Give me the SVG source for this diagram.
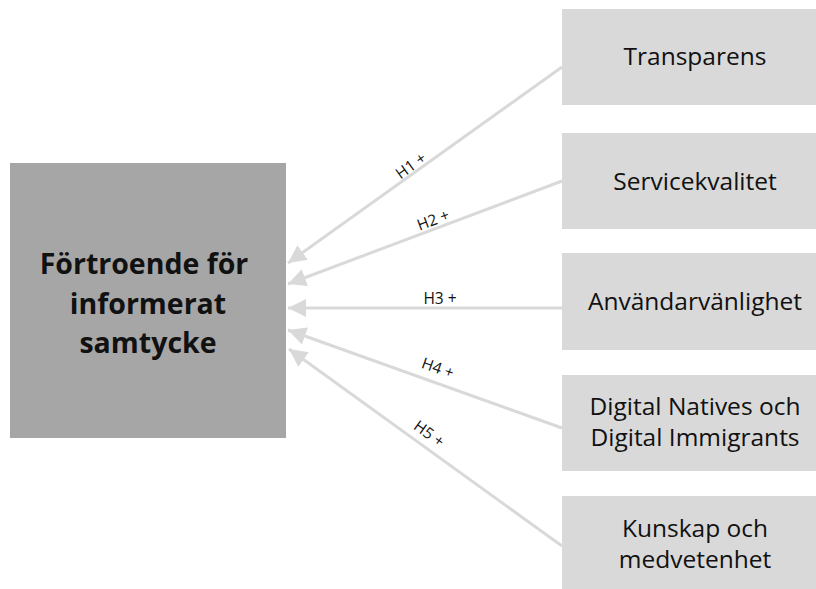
<svg xmlns="http://www.w3.org/2000/svg" width="816" height="589" viewBox="0 0 816 589">
<style>
.main{fill:#a6a6a6}
.box{fill:#d9d9d9}
.mt{font-family:"Open Sans","Liberation Sans",sans-serif;font-weight:bold;font-size:28.5px;fill:#111;text-anchor:middle}
.bt{font-family:"Open Sans","Liberation Sans",sans-serif;font-size:24.5px;fill:#111;text-anchor:middle}
.lb{font-family:"Open Sans","Liberation Sans",sans-serif;font-size:15.5px;fill:#111;text-anchor:middle}
.c{stroke:#d9d9d9;stroke-width:3;fill:none;marker-end:url(#ah)}
</style>
<defs>
<marker id="ah" markerWidth="6" markerHeight="6" refX="6" refY="3" orient="auto" markerUnits="strokeWidth">
<path d="M0,0 L6,3 L0,6 Z" fill="#d9d9d9"/>
</marker>
</defs>
<rect width="816" height="589" fill="#fff"/>
<g id="connectors">
<line class="c" x1="562" y1="67" x2="288" y2="263"/>
<line class="c" x1="562" y1="181" x2="288" y2="284"/>
<line class="c" x1="562" y1="308" x2="288" y2="308"/>
<line class="c" x1="562" y1="428" x2="288" y2="330"/>
<line class="c" x1="562" y1="546" x2="289" y2="349"/>
<text class="lb" transform="translate(414,170) rotate(-35.6)">H1 +</text>
<text class="lb" transform="translate(435,225) rotate(-20.4)">H2 +</text>
<text class="lb" x="440" y="304">H3 +</text>
<text class="lb" transform="translate(436,373) rotate(19.7)">H4 +</text>
<text class="lb" transform="translate(426,438) rotate(35.7)">H5 +</text>
</g>
<g id="n0">
<rect class="main" x="10" y="163" width="276" height="275"/>
<text class="mt" x="144" y="274">Förtroende för</text>
<text class="mt" x="148" y="314">informerat</text>
<text class="mt" x="148" y="353">samtycke</text>
</g>
<g id="n1">
<rect class="box" x="562" y="9" width="254" height="96"/>
<text class="bt" x="695" y="65">Transparens</text>
</g>
<g id="n2">
<rect class="box" x="562" y="133" width="254" height="96"/>
<text class="bt" x="695" y="190">Servicekvalitet</text>
</g>
<g id="n3">
<rect class="box" x="562" y="253" width="254" height="97"/>
<text class="bt" x="695" y="310">Användarvänlighet</text>
</g>
<g id="n4">
<rect class="box" x="562" y="375" width="254" height="96"/>
<text class="bt" x="695" y="415">Digital Natives och</text>
<text class="bt" x="695" y="446">Digital Immigrants</text>
</g>
<g id="n5">
<rect class="box" x="562" y="496" width="254" height="93"/>
<text class="bt" x="695" y="537">Kunskap och</text>
<text class="bt" x="695" y="568">medvetenhet</text>
</g>
</svg>
